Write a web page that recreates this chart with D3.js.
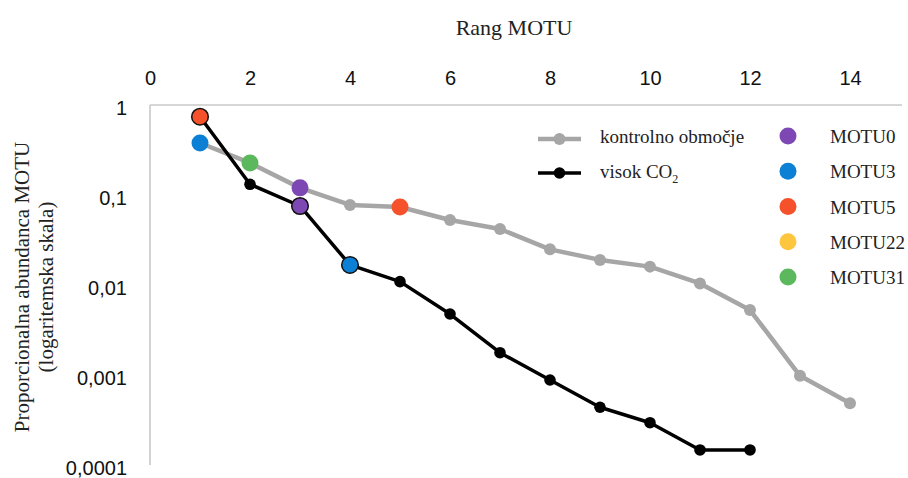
<!DOCTYPE html>
<html>
<head>
<meta charset="utf-8">
<script src="https://cdn.jsdelivr.net/npm/d3@7"></script>
<style>
  html, body { margin: 0; padding: 0; background: #fff; }
  svg { display: block; }
</style>
</head>
<body>
<svg id="chart" width="908" height="478"></svg>
<script>
// ---- data ----
const ranks = [1, 2, 3, 4, 5, 6, 7, 8, 9, 10, 11, 12, 13, 14];
const controlValues = [0.378, 0.227, 0.120, 0.0775, 0.0736, 0.0528, 0.0419, 0.0249, 0.0190, 0.0160, 0.0104, 0.00527, 0.00098, 0.000485];
const highCO2Values = [0.741, 0.1315, 0.0755, 0.0167, 0.0109, 0.00476, 0.00177, 0.00088, 0.000438, 0.000295, 0.000147, 0.000147];
const controlMotu = ["MOTU3", "MOTU31", "MOTU0", null, "MOTU5", null, null, null, null, null, null, null, null, null];
const highCO2Motu = ["MOTU5", null, "MOTU0", "MOTU3", null, null, null, null, null, null, null, null];
const motuNames = ["MOTU0", "MOTU3", "MOTU5", "MOTU22", "MOTU31"];
const motuColors = ["#7d48b4", "#0b80d4", "#f5522b", "#fec53f", "#5cb85c"];
const xTicks = [0, 2, 4, 6, 8, 10, 12, 14];
const yTicks = [1, 0.1, 0.01, 0.001, 0.0001];
const yTickLabels = ["1", "0,1", "0,01", "0,001", "0,0001"];
const seriesNames = ["kontrolno območje", "visok CO"];

const svg = d3.select("#chart");
const x = d3.scaleLinear().domain([0, 14]).range([150, 850]);
const y = d3.scaleLog().domain([0.0001, 1]).range([465, 105]);
const colorOf = d3.scaleOrdinal().domain(motuNames).range(motuColors);

const sans = "'Liberation Sans', Arial, sans-serif";
const serif = "'Liberation Serif', 'Times New Roman', serif";

// axes lines
svg.append("line").attr("x1", 150).attr("x2", 902).attr("y1", y(1)).attr("y2", y(1))
  .attr("stroke", "#c8c8c8").attr("stroke-width", 1.6);
svg.append("line").attr("x1", 150).attr("x2", 150).attr("y1", y(1)).attr("y2", y(0.0001))
  .attr("stroke", "#c8c8c8").attr("stroke-width", 1.6);

// top x tick labels (via d3 axis)
const xAxis = d3.axisTop(x).tickValues(xTicks).tickSize(0).tickPadding(0).tickFormat(d3.format("d"));
const gx = svg.append("g").attr("transform", "translate(0,85)").call(xAxis);
gx.select(".domain").remove();
gx.selectAll("text").attr("font-family", sans).attr("font-size", 20).attr("fill", "#111").attr("dy", 0);

// left y tick labels
const yAxis = d3.axisLeft(y).tickValues(yTicks).tickSize(0).tickPadding(0)
  .tickFormat((d, i) => yTickLabels[i]);
const gy = svg.append("g").attr("transform", "translate(127,0)").call(yAxis);
gy.select(".domain").remove();
gy.selectAll("text").attr("font-family", sans).attr("font-size", 20).attr("fill", "#111").attr("dy", 0).attr("y", 9);

// titles
svg.append("text").attr("x", 514).attr("y", 35).attr("text-anchor", "middle")
  .attr("font-family", serif).attr("font-size", 22).attr("fill", "#222").text("Rang MOTU");
const yt = svg.append("text").attr("transform", "translate(0,287) rotate(-90)")
  .attr("text-anchor", "middle").attr("font-family", serif).attr("font-size", 21).attr("fill", "#222");
yt.append("tspan").attr("x", 0).attr("y", 29).text("Proporcionalna abundanca MOTU");
yt.append("tspan").attr("x", 0).attr("y", 53).text("(logaritemska skala)");

// lines
const line = d3.line().x(d => x(d[0])).y(d => y(d[1]));
const ctrl = ranks.map((r, i) => [r, controlValues[i], controlMotu[i]]);
const high = ranks.slice(0, highCO2Values.length).map((r, i) => [r, highCO2Values[i], highCO2Motu[i]]);

svg.append("path").datum(ctrl).attr("d", line).attr("fill", "none")
  .attr("stroke", "#a6a6a6").attr("stroke-width", 4.5).attr("stroke-linejoin", "round");
svg.append("g").selectAll("circle").data(ctrl.filter(d => !d[2])).join("circle")
  .attr("cx", d => x(d[0])).attr("cy", d => y(d[1])).attr("r", 6).attr("fill", "#a6a6a6");

svg.append("path").datum(high).attr("d", line).attr("fill", "none")
  .attr("stroke", "#000").attr("stroke-width", 3.5).attr("stroke-linejoin", "round");
svg.append("g").selectAll("circle").data(high.filter(d => !d[2])).join("circle")
  .attr("cx", d => x(d[0])).attr("cy", d => y(d[1])).attr("r", 5.8).attr("fill", "#000");

// highlighted MOTU points
svg.append("g").selectAll("circle").data(ctrl.filter(d => d[2])).join("circle")
  .attr("cx", d => x(d[0])).attr("cy", d => y(d[1])).attr("r", 8.5)
  .attr("fill", d => colorOf(d[2]));
svg.append("g").selectAll("circle").data(high.filter(d => d[2])).join("circle")
  .attr("cx", d => x(d[0])).attr("cy", d => y(d[1])).attr("r", 8.3)
  .attr("fill", d => colorOf(d[2])).attr("stroke", "#111").attr("stroke-width", 1.5);

// legend: series
const lg = svg.append("g");
const legY = [139, 173];
const legStyles = [{ c: "#a6a6a6", w: 4.5, r: 6 }, { c: "#000", w: 3.5, r: 5.8 }];
legY.forEach((ly, i) => {
  lg.append("line").attr("x1", 538).attr("x2", 581).attr("y1", ly).attr("y2", ly)
    .attr("stroke", legStyles[i].c).attr("stroke-width", legStyles[i].w);
  lg.append("circle").attr("cx", 559.5).attr("cy", ly).attr("r", legStyles[i].r).attr("fill", legStyles[i].c);
});
lg.append("text").attr("x", 600).attr("y", 143).attr("font-family", serif).attr("font-size", 19)
  .attr("fill", "#222").text(seriesNames[0]);
const t2 = lg.append("text").attr("x", 600).attr("y", 178).attr("font-family", serif).attr("font-size", 19)
  .attr("fill", "#222").text(seriesNames[1]);
t2.append("tspan").attr("font-size", 12).attr("dy", 5).text("2");

// legend: MOTU colours
const mY = d3.scalePoint().domain(motuNames).range([136, 277]);
const ml = svg.append("g").selectAll("g").data(motuNames).join("g");
ml.append("circle").attr("cx", 788).attr("cy", d => mY(d)).attr("r", 8.5).attr("fill", d => colorOf(d));
ml.append("text").attr("x", 830).attr("y", d => mY(d) + 7).attr("font-family", serif).attr("font-size", 19)
  .attr("fill", "#222").text(d => d);
</script>
</body>
</html>
